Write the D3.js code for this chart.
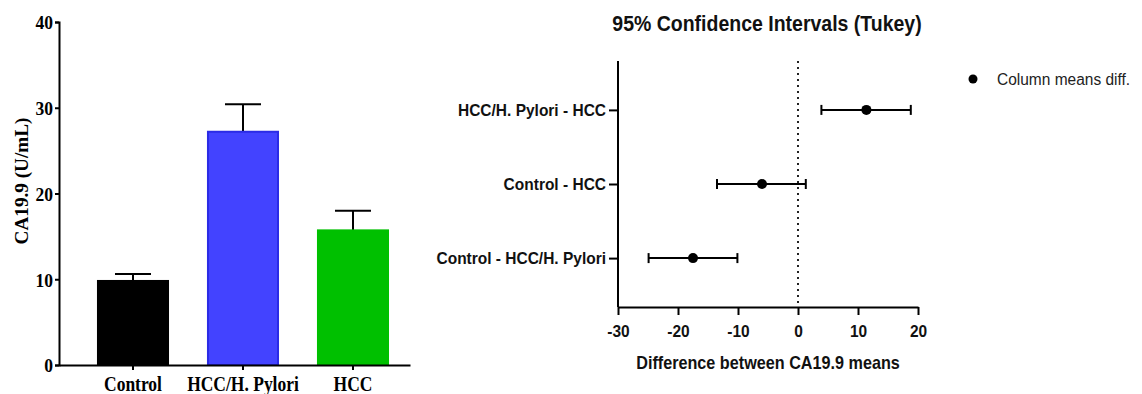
<!DOCTYPE html>
<html>
<head>
<meta charset="utf-8">
<script src="https://cdn.jsdelivr.net/npm/d3@7"></script>
<style>
  body { margin: 0; background: #fff; }
  svg { display: block; }
  .serif text { font-family: "Liberation Serif", "Times New Roman", serif; font-weight: bold; fill: #000; }
  .sans text { font-family: "Liberation Sans", Arial, sans-serif; font-weight: bold; fill: #111; }
  text.tall { transform-box: fill-box; transform-origin: center; }
</style>
</head>
<body>
<svg id="chart" width="1142" height="394"></svg>
<script>
// Bar chart data (left)
const groups = ["Control", "HCC/H. Pylori", "HCC"];
const means = [9.8, 27.2, 15.7];
const errUpper = [10.6, 30.4, 18.0];
const barTicks = [0, 10, 20, 30, 40];
const barFill = ["#000000", "#4343ff", "#00c000"];
const barStroke = ["#000000", "#2b2be6", "#00c000"];

// Tukey CI data (right)
const comparisons = ["HCC/H. Pylori - HCC", "Control - HCC", "Control - HCC/H. Pylori"];
const diffs = [11.4, -6.0, -17.5];
const ciLow = [3.9, -13.5, -24.9];
const ciHigh = [18.8, 1.3, -10.1];
const diffTicks = [-30, -20, -10, 0, 10, 20];

const svg = d3.select("#chart");

// stretch glyphs vertically, the source image is a bit squashed sideways
function stretch(sel, k) {
  sel.classed("tall", true).style("transform", `scaleY(${k})`);
}

// ---- left: bar graph ----
const left = svg.append("g").attr("class", "serif");

const yBar = d3.scaleLinear().domain([0, 40]).range([365, 22]);
const xBar = d3.scaleBand().domain(groups).range([59, 410])
    .paddingInner(0.345).paddingOuter(0.268).align(0.644);

// error bars (behind bars)
const err = left.selectAll(".err").data(groups).enter().append("g");
err.append("line")
    .attr("x1", d => xBar(d) + xBar.bandwidth() / 2)
    .attr("x2", d => xBar(d) + xBar.bandwidth() / 2)
    .attr("y1", (d, i) => yBar(means[i]))
    .attr("y2", (d, i) => yBar(errUpper[i]))
    .attr("stroke", "#000").attr("stroke-width", 2);
err.append("line")
    .attr("x1", d => xBar(d) + xBar.bandwidth() / 2 - 18)
    .attr("x2", d => xBar(d) + xBar.bandwidth() / 2 + 18)
    .attr("y1", (d, i) => yBar(errUpper[i]))
    .attr("y2", (d, i) => yBar(errUpper[i]))
    .attr("stroke", "#000").attr("stroke-width", 2);

left.selectAll(".bar").data(groups).enter().append("rect")
    .attr("x", d => xBar(d) + 1)
    .attr("width", xBar.bandwidth() - 2)
    .attr("y", (d, i) => yBar(means[i]))
    .attr("height", (d, i) => yBar(0) - yBar(means[i]))
    .attr("fill", (d, i) => barFill[i])
    .attr("stroke", (d, i) => barStroke[i])
    .attr("stroke-width", 2);

const yAxisL = left.append("g").attr("transform", "translate(59,0)")
    .call(d3.axisLeft(yBar).tickValues(barTicks).tickSize(4).tickPadding(2));
const xAxisL = left.append("g").attr("transform", "translate(0,365)")
    .call(d3.axisBottom(xBar).tickSize(5).tickSizeOuter(0).tickPadding(7));
[yAxisL, xAxisL].forEach(a => {
  a.select(".domain").attr("stroke", "#000").attr("stroke-width", 2);
  a.selectAll(".tick line").attr("stroke", "#000").attr("stroke-width", 2);
  a.selectAll("text").attr("font-size", 17.5);
});
yAxisL.selectAll("text").attr("dy", "0.36em");
stretch(yAxisL.selectAll("text"), 1.1);
stretch(xAxisL.selectAll("text"), 1.2);

left.append("g")
    .attr("transform", "translate(28,181) rotate(-90)")
  .append("text")
    .attr("text-anchor", "middle")
    .attr("font-size", 19.2)
    .text("CA19.9 (U/mL)");

// ---- right: confidence intervals ----
const right = svg.append("g").attr("class", "sans");

const xCI = d3.scaleLinear().domain([-30, 20]).range([618, 918]);
const yCI = d3.scalePoint().domain(comparisons).range([61, 307]).padding(0.66);

const title = right.append("text")
    .attr("x", 767).attr("y", 30)
    .attr("text-anchor", "middle")
    .attr("font-size", 19.5)
    .text("95% Confidence Intervals (Tukey)");
stretch(title, 1.12);

right.append("line")
    .attr("x1", xCI(0)).attr("x2", xCI(0))
    .attr("y1", 61).attr("y2", 307)
    .attr("stroke", "#222").attr("stroke-width", 2)
    .attr("stroke-dasharray", "2,4");

const xAxisR = right.append("g").attr("transform", "translate(0,307)")
    .call(d3.axisBottom(xCI).tickValues(diffTicks).tickFormat(d => String(d))
      .tickSize(8).tickSizeOuter(0).tickPadding(10));
const yAxisR = right.append("g").attr("transform", "translate(618,0)")
    .call(d3.axisLeft(yCI).tickSize(9).tickSizeOuter(0).tickPadding(3));
[xAxisR, yAxisR].forEach(a => {
  a.select(".domain").attr("stroke", "#000").attr("stroke-width", 2);
  a.selectAll(".tick line").attr("stroke", "#000").attr("stroke-width", 2);
  a.selectAll("text").attr("font-size", 15.5).attr("fill", "#111");
  stretch(a.selectAll("text"), 1.1);
});
yAxisR.select(".domain").attr("d", "M0,61V307");

const ci = right.selectAll(".ci").data(comparisons).enter().append("g");
ci.append("line")
    .attr("x1", (d, i) => xCI(ciLow[i])).attr("x2", (d, i) => xCI(ciHigh[i]))
    .attr("y1", d => yCI(d)).attr("y2", d => yCI(d))
    .attr("stroke", "#000").attr("stroke-width", 2);
ci.append("line")
    .attr("x1", (d, i) => xCI(ciLow[i])).attr("x2", (d, i) => xCI(ciLow[i]))
    .attr("y1", d => yCI(d) - 5).attr("y2", d => yCI(d) + 5)
    .attr("stroke", "#000").attr("stroke-width", 2);
ci.append("line")
    .attr("x1", (d, i) => xCI(ciHigh[i])).attr("x2", (d, i) => xCI(ciHigh[i]))
    .attr("y1", d => yCI(d) - 5).attr("y2", d => yCI(d) + 5)
    .attr("stroke", "#000").attr("stroke-width", 2);
ci.append("circle")
    .attr("cx", (d, i) => xCI(diffs[i]))
    .attr("cy", d => yCI(d))
    .attr("r", 5)
    .attr("fill", "#000");

const xTitle = right.append("text")
    .attr("x", 768).attr("y", 368)
    .attr("text-anchor", "middle")
    .attr("font-size", 16.2)
    .text("Difference between CA19.9 means");
stretch(xTitle, 1.12);

// legend
const legend = svg.append("g").attr("transform", "translate(973,79)");
legend.append("circle").attr("r", 4.5).attr("fill", "#000");
const legText = legend.append("text")
    .attr("x", 24).attr("dy", "0.35em")
    .attr("font-family", "Liberation Sans, Arial, sans-serif")
    .attr("font-size", 15.5)
    .attr("fill", "#222")
    .text("Column means diff.");
stretch(legText, 1.1);
</script>
</body>
</html>
